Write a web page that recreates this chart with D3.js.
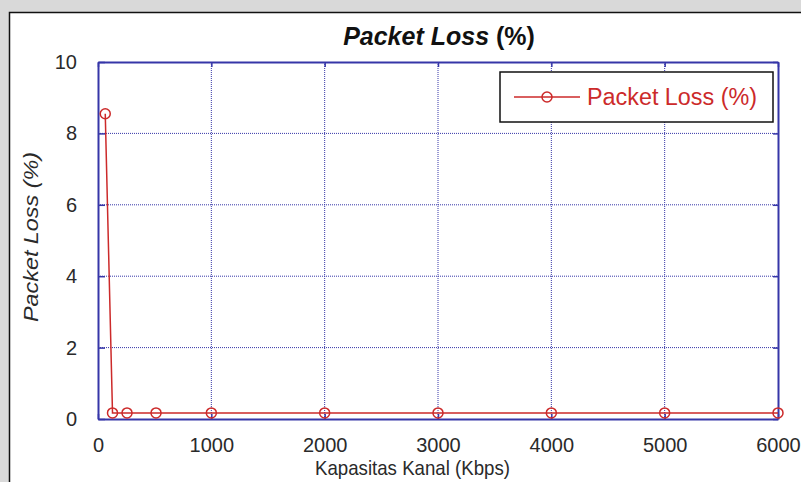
<!DOCTYPE html>
<html>
<head>
    <title>Packet Loss</title>
    <script src="https://d3js.org/d3.v7.min.js"></script>
    <style>
        body { margin: 0; background: #d9d9d9; }
        svg { display: block; font-family: "Liberation Sans", Arial, sans-serif; }
    </style>
</head>
<body>
    <div id="chart"></div>

    <script>
        // data
        var kapasitas = [64, 128, 256, 512, 1000, 2000, 3000, 4000, 5000, 6000];
        var packetLoss = [8.55, 0.17, 0.17, 0.17, 0.17, 0.17, 0.17, 0.17, 0.17, 0.17];
        var xTicks = [0, 1000, 2000, 3000, 4000, 5000, 6000];
        var yTicks = [0, 2, 4, 6, 8, 10];

        var width = 801, height = 482;
        var margin = { left: 98, top: 62, right: 23, bottom: 63 };
        var axisColor = "#3636a8";
        var red = "#cc2a2a";

        var svg = d3.select("#chart").append("svg")
            .attr("width", width)
            .attr("height", height);

        // white chart panel
        svg.append("rect")
            .attr("x", 9.5).attr("y", 12.5)
            .attr("width", 800).attr("height", 480)
            .attr("fill", "#fff")
            .attr("stroke", "#111")
            .attr("stroke-width", 1.5);

        var x = d3.scaleLinear().domain([0, 6000]).range([margin.left, width - margin.right]);
        var y = d3.scaleLinear().domain([0, 10]).range([height - margin.bottom, margin.top]);

        // dotted grid
        svg.append("g").selectAll("line")
            .data(xTicks.slice(1, -1))
            .enter().append("line")
            .attr("x1", function(d) { return x(d); }).attr("x2", function(d) { return x(d); })
            .attr("y1", y(0)).attr("y2", y(10))
            .attr("stroke", axisColor).attr("stroke-width", 1).attr("stroke-dasharray", "1,1");
        svg.append("g").selectAll("line")
            .data(yTicks.slice(1, -1))
            .enter().append("line")
            .attr("x1", x(0)).attr("x2", x(6000))
            .attr("y1", function(d) { return y(d); }).attr("y2", function(d) { return y(d); })
            .attr("stroke", axisColor).attr("stroke-width", 1).attr("stroke-dasharray", "1,1");

        // axes with inward ticks
        var xAxis = svg.append("g")
            .attr("transform", "translate(0," + y(0) + ")")
            .call(d3.axisBottom(x).tickValues(xTicks).tickFormat(d3.format("d"))
                .tickSize(-5).tickPadding(19).tickSizeOuter(0));
        var xAxisTop = svg.append("g")
            .attr("transform", "translate(0," + y(10) + ")")
            .call(d3.axisTop(x).tickValues(xTicks).tickSize(-5).tickFormat("").tickSizeOuter(0));
        var yAxis = svg.append("g")
            .attr("transform", "translate(" + x(0) + ",0)")
            .call(d3.axisLeft(y).tickValues(yTicks).tickSize(-7).tickPadding(21).tickSizeOuter(0));
        var yAxisRight = svg.append("g")
            .attr("transform", "translate(" + x(6000) + ",0)")
            .call(d3.axisRight(y).tickValues(yTicks).tickSize(-5).tickFormat("").tickSizeOuter(0));

        [xAxis, xAxisTop, yAxis, yAxisRight].forEach(function(g) {
            g.select(".domain").attr("stroke", axisColor).attr("stroke-width", 2);
            g.selectAll(".tick line").attr("stroke", axisColor).attr("stroke-width", 1.5);
            g.selectAll("text").attr("fill", "#2a2a2a")
                .style("font-family", "\"Liberation Sans\", Arial, sans-serif")
                .style("font-size", "20px");
        });

        // series
        var line = d3.line()
            .x(function(d, i) { return x(kapasitas[i]); })
            .y(function(d) { return y(d); });

        svg.append("path")
            .datum(packetLoss)
            .attr("d", line)
            .attr("fill", "none")
            .attr("stroke", red)
            .attr("stroke-width", 1.5);

        svg.append("g").selectAll("circle")
            .data(packetLoss)
            .enter().append("circle")
            .attr("cx", function(d, i) { return x(kapasitas[i]); })
            .attr("cy", function(d) { return y(d); })
            .attr("r", 5)
            .attr("fill", "none")
            .attr("stroke", red)
            .attr("stroke-width", 1.5);

        // title
        var title = svg.append("text")
            .attr("x", 439).attr("y", 45)
            .attr("text-anchor", "middle")
            .style("font-size", "25px")
            .style("font-weight", "bold")
            .attr("fill", "#111");
        title.append("tspan").style("font-style", "italic").text("Packet Loss ");
        title.append("tspan").text("(%)");

        // axis labels (source font is narrow, so squeeze to its width)
        svg.append("text")
            .attr("x", 315).attr("y", 475)
            .style("font-size", "21px")
            .attr("fill", "#2a2a2a")
            .attr("textLength", 195)
            .attr("lengthAdjust", "spacingAndGlyphs")
            .text("Kapasitas Kanal (Kbps)");

        svg.append("text")
            .attr("transform", "translate(38,322) rotate(-90)")
            .style("font-size", "21px")
            .style("font-style", "italic")
            .attr("fill", "#2a2a2a")
            .attr("textLength", 170)
            .attr("lengthAdjust", "spacingAndGlyphs")
            .text("Packet Loss (%)");

        // legend
        var legend = svg.append("g");
        legend.append("rect")
            .attr("x", 500).attr("y", 72)
            .attr("width", 273).attr("height", 50)
            .attr("fill", "#fff")
            .attr("stroke", "#111")
            .attr("stroke-width", 1.5);
        legend.append("line")
            .attr("x1", 514).attr("x2", 580)
            .attr("y1", 97).attr("y2", 97)
            .attr("stroke", red).attr("stroke-width", 1.5);
        legend.append("circle")
            .attr("cx", 547).attr("cy", 97).attr("r", 5)
            .attr("fill", "none").attr("stroke", red).attr("stroke-width", 1.5);
        legend.append("text")
            .attr("x", 587).attr("y", 105)
            .style("font-size", "23px")
            .attr("fill", red)
            .attr("textLength", 170)
            .attr("lengthAdjust", "spacingAndGlyphs")
            .text("Packet Loss (%)");
    </script>
</body>
</html>
